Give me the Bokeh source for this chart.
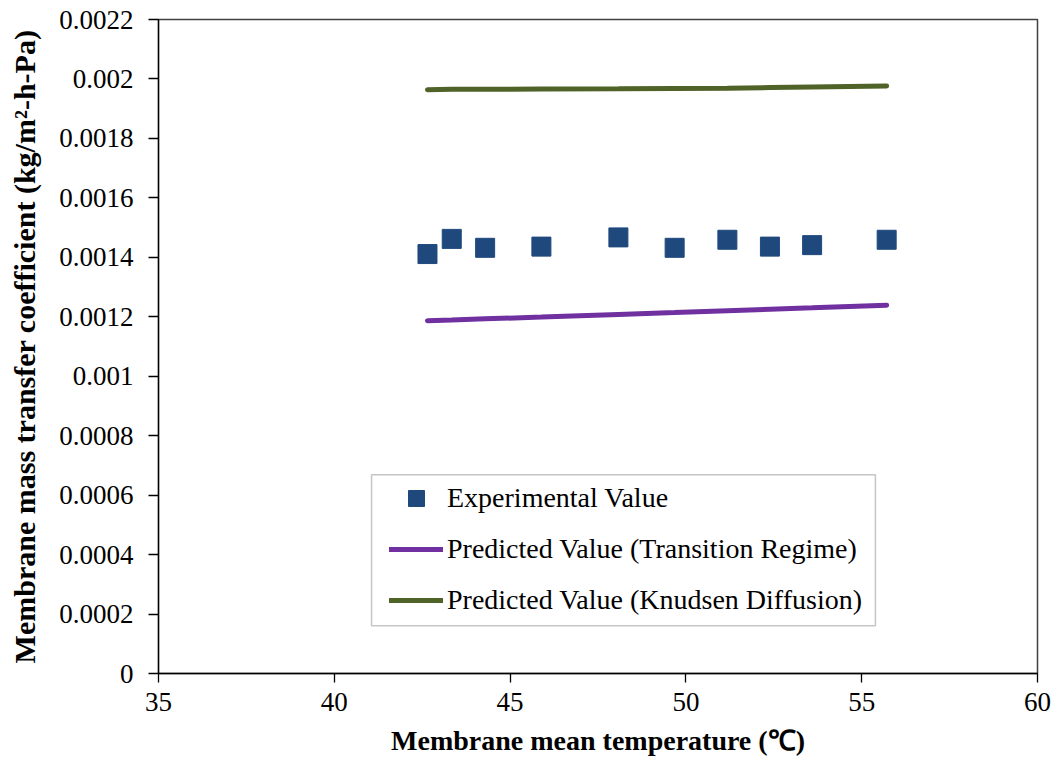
from bokeh.plotting import figure
from bokeh.models import (Range1d, FixedTicker, NumeralTickFormatter, Legend,
                          LegendItem, BoxAnnotation)
from bokeh.embed import file_html
from bokeh.resources import INLINE

# Membrane mean temperature (°C) of each run
temperature = [42.65, 43.34, 44.29, 45.89, 48.08, 49.68, 51.18, 52.39, 53.59, 55.71]
# Measured membrane mass transfer coefficient (kg/m2-h-Pa)
experimental = [0.001411, 0.001462, 0.001432, 0.001436, 0.001467,
                0.001432, 0.001459, 0.001436, 0.001441, 0.001459]
# Model predictions at the same temperatures
transition_regime = [0.001187, 0.001189, 0.001193, 0.001199, 0.001208,
                     0.001214, 0.001220, 0.001225, 0.001230, 0.001239]
knudsen_diffusion = [0.001964, 0.001965, 0.001965, 0.001966, 0.001967,
                     0.001968, 0.001969, 0.001971, 0.001973, 0.001976]

x_ticks = [35, 40, 45, 50, 55, 60]
y_ticks = [0, 0.0002, 0.0004, 0.0006, 0.0008, 0.001, 0.0012,
           0.0014, 0.0016, 0.0018, 0.002, 0.0022]

FONT = "'Liberation Serif', 'Times New Roman', serif"

p = figure(width=1057, height=764,
           x_range=Range1d(35, 60), y_range=Range1d(0, 0.0022),
           output_backend="svg", toolbar_location=None,
           min_border_left=158, min_border_right=20,
           min_border_top=19, min_border_bottom=91)

p.background_fill_color = "white"
p.border_fill_color = "white"
p.outline_line_color = "#404040"
p.outline_line_width = 1.5
p.xgrid.visible = False
p.ygrid.visible = False

# axes
for ax in (p.xaxis[0], p.yaxis[0]):
    ax.axis_line_color = "black"
    ax.axis_line_width = 1.3
    ax.major_tick_line_color = "black"
    ax.major_tick_line_width = 1.3
    ax.major_tick_in = 0
    ax.minor_tick_line_color = None
    ax.major_label_text_font = FONT
    ax.major_label_text_font_size = "27px"
    ax.major_label_text_font_style = "normal"
    ax.major_label_text_color = "black"
    ax.axis_label_text_font = FONT
    ax.axis_label_text_font_style = "bold"
    ax.axis_label_text_color = "black"

p.xaxis.ticker = FixedTicker(ticks=x_ticks)
p.xaxis.major_tick_out = 9
p.xaxis.major_label_standoff = 10
p.xaxis.axis_label_standoff = 11
p.xaxis.axis_label_text_font_size = "28px"
p.xaxis.axis_label = "Membrane mean temperature (℃)"

p.yaxis.ticker = FixedTicker(ticks=y_ticks)
p.yaxis.formatter = NumeralTickFormatter(format="0.[0000]")
p.yaxis.major_tick_out = 10
p.yaxis.major_label_standoff = 15
p.yaxis.axis_label_standoff = 15
p.yaxis.axis_label_text_font_size = "30px"
p.yaxis.axis_label = "Membrane mass transfer coefficient (kg/m²-h-Pa)"

# series
r_trans = p.line(temperature, transition_regime, line_color="#7030A0",
                 line_width=5, line_cap="round")
r_knud = p.line(temperature, knudsen_diffusion, line_color="#4F6228",
                line_width=5, line_cap="round")
r_exp = p.scatter(temperature, experimental, marker="square", size=19,
                  fill_color="#1F497D", line_color="#1F497D", line_width=1)

# legend frame
legend_box = BoxAnnotation(left=41.06, right=55.39, bottom=0.0001605, top=0.0006684,
                           fill_color="white", fill_alpha=1.0,
                           line_color="#404040", line_width=1.5)
p.add_layout(legend_box)

legend = Legend(items=[
    LegendItem(label="Experimental Value", renderers=[r_exp]),
    LegendItem(label="Predicted Value (Transition Regime)", renderers=[r_trans]),
    LegendItem(label="Predicted Value (Knudsen Diffusion)", renderers=[r_knud]),
], location=(231, 53))
legend.margin = 0
legend.padding = 0
legend.border_line_alpha = 0
legend.background_fill_alpha = 0
legend.glyph_width = 54
legend.glyph_height = 40
legend.label_height = 40
legend.spacing = 11
legend.label_standoff = 4
legend.label_text_font = FONT
legend.label_text_font_size = "28px"
legend.label_text_font_style = "normal"
legend.label_text_color = "black"
p.add_layout(legend)

open("out.html", "w").write(file_html(p, INLINE))
